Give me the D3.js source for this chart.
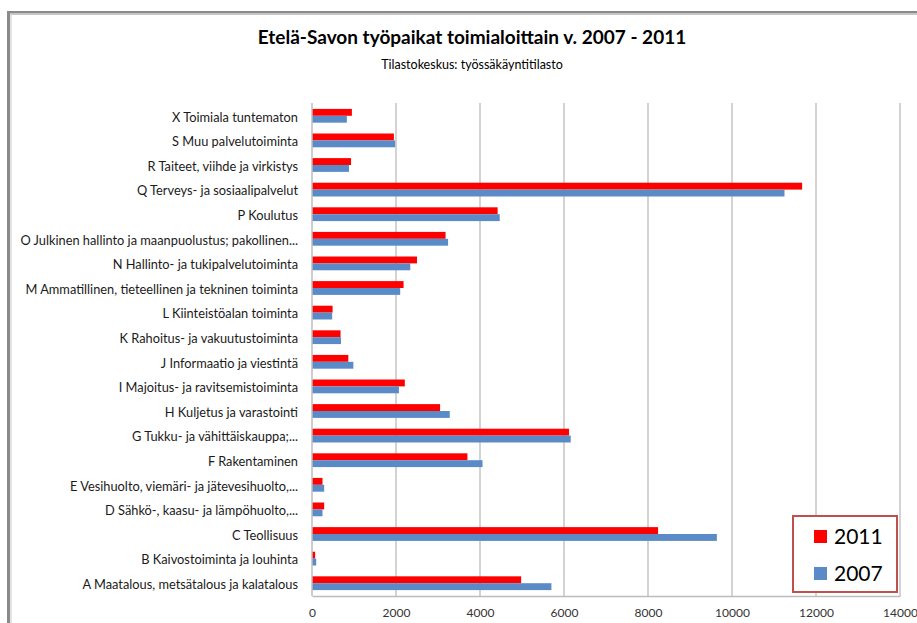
<!DOCTYPE html>
<html>

<head>
    <script type="text/javascript" src="https://d3js.org/d3.v7.min.js"></script>
    <style>
        body {
            margin: 0;
            background: #ffffff;
        }

        svg {
            display: block;
            background: #ffffff;
        }

        .label text {
            font-family: Lato, "Open Sans", sans-serif;
            font-size: 12.8px;
            fill: #1a1a1a;
        }

        .xaxis text {
            font-family: Lato, "Open Sans", sans-serif;
            font-size: 12px;
            fill: #333333;
        }

        .grid {
            stroke: #c4c4c4;
            stroke-width: 1.5px;
        }
    </style>
</head>

<body>
    <div id="container"></div>

    <script>
        // categories, top to bottom as drawn
        var categories = [
            "X Toimiala tuntematon",
            "S Muu palvelutoiminta",
            "R Taiteet, viihde ja virkistys",
            "Q Terveys- ja sosiaalipalvelut",
            "P Koulutus",
            "O Julkinen hallinto ja maanpuolustus; pakollinen...",
            "N Hallinto- ja tukipalvelutoiminta",
            "M Ammatillinen, tieteellinen ja tekninen toiminta",
            "L Kiinteistöalan toiminta",
            "K Rahoitus- ja vakuutustoiminta",
            "J Informaatio ja viestintä",
            "I Majoitus- ja ravitsemistoiminta",
            "H Kuljetus ja varastointi",
            "G Tukku- ja vähittäiskauppa;...",
            "F Rakentaminen",
            "E Vesihuolto, viemäri- ja jätevesihuolto,...",
            "D Sähkö-, kaasu- ja lämpöhuolto,...",
            "C Teollisuus",
            "B Kaivostoiminta ja louhinta",
            "A Maatalous, metsätalous ja kalatalous"
        ];

        var values2011 = [950, 1950, 930, 11670, 4420, 3180, 2500, 2180, 490, 680,
            865, 2210, 3050, 6120, 3700, 250, 290, 8240, 75, 4980];
        var values2007 = [830, 1980, 880, 11250, 4470, 3240, 2340, 2100, 480, 690,
            985, 2070, 3280, 6160, 4060, 290, 250, 9640, 100, 5700];

        var seriesNames = ["2011", "2007"];
        var seriesColors = ["#ff0000", "#5b8bc6"];
        var xTicks = [0, 2000, 4000, 6000, 8000, 10000, 12000, 14000];

        var titleText = "Etelä-Savon työpaikat toimialoittain v. 2007 - 2011";
        var subtitleText = "Tilastokeskus: työssäkäyntitilasto";

        var W = 917,
            H = 623;
        var plot = {
            left: 312,
            right: 900,
            top: 103,
            bottom: 596
        };

        var svg = d3.select("#container").append("svg")
            .attr("width", W)
            .attr("height", H);

        // chart frame (cropped border from the original)
        svg.append("rect").attr("x", 7).attr("y", 11).attr("width", W).attr("height", 2.5).style("fill", "#8a8a8a");
        svg.append("rect").attr("x", 7).attr("y", 11).attr("width", 3).attr("height", H).style("fill", "#8a8a8a");
        svg.append("rect").attr("x", 10.5).attr("y", 14).attr("width", W).attr("height", 1).style("fill", "#c8c8c8");
        svg.append("rect").attr("x", 10.5).attr("y", 14).attr("width", 1).attr("height", H).style("fill", "#c8c8c8");

        // scales
        var x = d3.scaleLinear().domain([0, 14000]).range([plot.left, plot.right]);
        var y = d3.scaleBand().domain(categories).range([plot.top, plot.bottom])
            .paddingInner(0.44).paddingOuter(0.24);
        var ySub = d3.scaleBand().domain(seriesNames).range([0, y.bandwidth()]);

        // gridlines
        svg.append("g").selectAll("line")
            .data(xTicks.slice(1))
            .enter().append("line")
            .attr("class", "grid")
            .attr("x1", function(d) { return x(d); })
            .attr("x2", function(d) { return x(d); })
            .attr("y1", plot.top)
            .attr("y2", plot.bottom);

        // bars
        var rows = categories.map(function(c, i) {
            return { cat: c, vals: [values2011[i], values2007[i]] };
        });

        var groups = svg.append("g").selectAll("g")
            .data(rows)
            .enter().append("g")
            .attr("transform", function(d) { return "translate(0," + y(d.cat) + ")"; });

        groups.selectAll("rect")
            .data(function(d) {
                return d.vals.map(function(v, j) { return { key: seriesNames[j], value: v, color: seriesColors[j] }; });
            })
            .enter().append("rect")
            .attr("x", x(0))
            .attr("y", function(d) { return ySub(d.key); })
            .attr("width", function(d) { return x(d.value) - x(0); })
            .attr("height", ySub.bandwidth())
            .style("fill", function(d) { return d.color; });

        // vertical axis line
        svg.append("line")
            .attr("x1", x(0)).attr("x2", x(0))
            .attr("y1", plot.top).attr("y2", plot.bottom)
            .style("stroke", "#bcbcbc").style("stroke-width", 1.5);

        // horizontal axis
        var xAxis = svg.append("g")
            .attr("class", "xaxis")
            .attr("transform", "translate(0," + plot.bottom + ")")
            .call(d3.axisBottom(x).tickValues(xTicks).tickSize(0).tickPadding(12).tickFormat(d3.format("d")));
        xAxis.select(".domain").style("stroke", "#bcbcbc").style("stroke-width", 1.5);

        // category labels
        var yAxis = svg.append("g")
            .attr("class", "label")
            .attr("transform", "translate(" + x(0) + ",0)")
            .call(d3.axisLeft(y).tickSize(0).tickPadding(14));
        yAxis.select(".domain").remove();
        yAxis.selectAll("text").attr("dy", "0.45em");

        // title
        svg.append("text")
            .attr("x", 472)
            .attr("y", 44)
            .style("text-anchor", "middle")
            .style("font-family", "Lato, 'Open Sans', sans-serif")
            .style("font-weight", "bold")
            .style("font-size", "19px")
            .style("fill", "#000")
            .text(titleText);

        svg.append("text")
            .attr("x", 472)
            .attr("y", 69)
            .style("text-anchor", "middle")
            .style("font-family", "Lato, 'Open Sans', sans-serif")
            .style("font-size", "12.5px")
            .style("fill", "#000")
            .text(subtitleText);

        // legend
        var legend = svg.append("g").attr("transform", "translate(792,515)");
        legend.append("rect")
            .attr("x", 1).attr("y", 1)
            .attr("width", 104).attr("height", 76)
            .style("fill", "#fff")
            .style("stroke", "#c0504d")
            .style("stroke-width", 2);

        var items = legend.selectAll(".item")
            .data(seriesNames)
            .enter().append("g")
            .attr("class", "item")
            .attr("transform", function(d, i) { return "translate(22," + (15 + i * 37) + ")"; });

        items.append("rect")
            .attr("width", 13).attr("height", 13)
            .style("fill", function(d, i) { return seriesColors[i]; });

        items.append("text")
            .attr("x", 20)
            .attr("y", 13.5)
            .style("font-family", "Lato, 'Open Sans', sans-serif")
            .style("font-size", "21px")
            .style("fill", "#000")
            .text(function(d) { return d; });
    </script>
</body>

</html>
